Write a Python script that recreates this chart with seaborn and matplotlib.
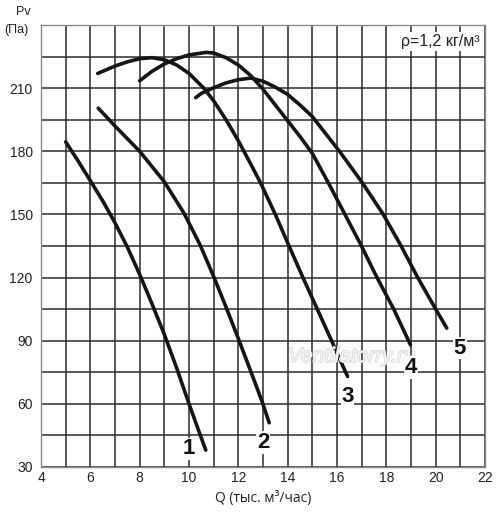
import pandas as pd
import numpy as np
import seaborn as sns
import matplotlib.pyplot as plt
import matplotlib.patheffects as pe
from matplotlib.ticker import MultipleLocator


sns.set_theme(style="white")
plt.rcParams['font.family'] = ['Liberation Sans', 'DejaVu Sans']

# fan curves: Q (thousand m3/h) vs Pv (Pa)
q1 = [5.0, 5.5, 6.0, 6.5, 7.0, 7.5, 8.0, 8.5, 9.0, 9.5, 10.0, 10.4, 10.68]
p1 = [184.5, 175.5, 166, 156.5, 146, 134.5, 121.5, 107.5, 93, 77, 60, 47, 38]

q2 = [6.32, 7.0, 8.0, 9.0, 9.8, 10.45, 11.0, 11.5, 12.0, 12.47, 12.95, 13.25]
p2 = [200.5, 192, 180, 165.5, 150.5, 135.5, 120.5, 106, 91, 76.5, 61.5, 51]

q3 = [6.3, 7.0, 7.5, 8.0, 8.5, 9.0, 9.5, 10.0, 10.6, 11.0, 11.5, 12.0, 12.5,
      12.9, 13.5, 14.0, 14.6, 15.2, 15.8, 16.1, 16.43]
p3 = [217, 220.5, 222.5, 224, 224.5, 223.5, 221, 217, 210, 204, 195, 185, 174,
      165, 150, 136.5, 120.5, 105, 89.5, 81.5, 73]

q4 = [8.0, 8.5, 9.0, 9.5, 10.0, 10.7, 11.0, 11.5, 12.0, 12.5, 13.0, 13.5, 14.0,
      14.5, 15.0, 15.65, 16.3, 16.97, 17.6, 18.3, 18.98]
p4 = [213.5, 218, 221.5, 224, 225.8, 227, 226.7, 224.5, 221, 216, 209.5, 202, 194.5,
      187, 179, 165, 150.5, 135.5, 120.5, 105, 88]

q5 = [10.27, 10.5, 11.0, 11.5, 12.0, 12.5, 13.0, 13.5, 14.0, 14.5, 15.0, 15.5,
      16.1, 17.0, 17.85, 18.6, 19.25, 20.0, 20.45]
p5 = [205.5, 207.5, 210.2, 212.5, 214, 214.8, 213.3, 210.5, 207, 202, 196.5, 189,
      180, 165.5, 150.5, 135, 120.5, 105, 96]

curve_names = ["1", "2", "3", "4", "5"]
label_q = [10.0, 13.01, 16.43, 18.99, 20.98]
label_p = [38.6, 41.6, 63.5, 77.3, 86.5]

qs = [q1, q2, q3, q4, q5]
ps = [p1, p2, p3, p4, p5]
df = pd.concat([pd.DataFrame({"Q": q, "Pv": p, "curve": n})
                for q, p, n in zip(qs, ps, curve_names)], ignore_index=True)

fig = plt.figure(figsize=(5, 5.18), dpi=100)
ax = fig.add_axes([0.082, 0.0985, 0.888, 0.8532])

sns.lineplot(data=df, x="Q", y="Pv", hue="curve", units="curve",
             palette=["#151515"] * 5, estimator=None, sort=False,
             linewidth=2.6, legend=False, ax=ax, zorder=3)

ax.set_xlim(4, 22)
ax.set_ylim(30, 240)
ax.xaxis.set_major_locator(MultipleLocator(2))
ax.xaxis.set_minor_locator(MultipleLocator(1))
ax.set_yticks([30, 60, 90, 120, 150, 180, 210])
ax.yaxis.set_minor_locator(MultipleLocator(15))
ax.grid(True, which="both", color="#2b2b2b", linewidth=1.1)
ax.set_axisbelow(True)
ax.tick_params(axis="both", which="both", length=0, labelsize=10, colors="#222222")
ax.tick_params(axis="x", pad=3)
ax.tick_params(axis="y", pad=6)
for s in ax.spines.values():
    s.set_color("#8a8a8a")
    s.set_linewidth(1.0)

ax.set_xlabel("Q (тыс. м³/час)", fontsize=10, color="#222222", labelpad=4,
              family=["Open Sans", "DejaVu Sans"])
ax.set_ylabel("")
fig.text(0.032, 0.977, "Pv", fontsize=9, color="#222222", va="center")
fig.text(0.008, 0.942, "(Па)", fontsize=9, color="#222222", va="center")

ax.text(21.8, 232.3, "ρ=1,2 кг/м³", fontsize=11.5, ha="right", va="center",
        color="#222222", zorder=4,
        bbox=dict(facecolor="white", edgecolor="none", pad=1.5))

ax.text(16.6, 82.5, "Ventilatorry.ru", fontsize=15, style="italic",
        ha="center", va="center", color="#f4f4f4", zorder=4,
        path_effects=[pe.withStroke(linewidth=1.0, foreground="#d4d4d4")])

for n, x, y in zip(curve_names, label_q, label_p):
    ax.text(x, y, n, fontsize=16, fontweight="bold", ha="center", va="center",
            color="#111111", zorder=5,
            bbox=dict(facecolor="white", edgecolor="none", pad=0.5))

plt.savefig("out.png", dpi=100)
